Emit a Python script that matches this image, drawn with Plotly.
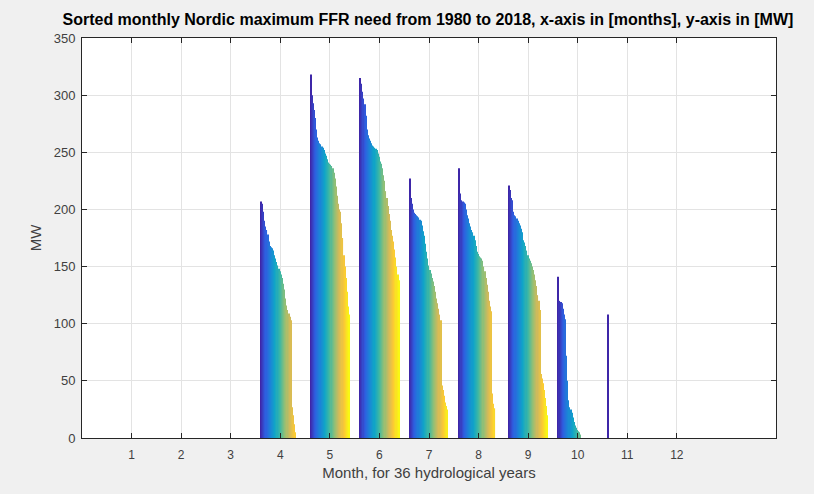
import plotly.graph_objects as go

months = list(range(1, 13))
tick_labels = [str(m) for m in months]
n_years = 36

# Sorted (descending) monthly maxima per month, in MW
m01 = [0] * 36
m02 = [0] * 36
m03 = [0] * 36
m04 = [207, 205, 198, 190, 185, 182, 178, 172, 168, 167, 166, 164, 160, 157, 154, 151,
       148, 146, 143, 140, 135, 130, 122, 116, 112, 109, 106, 103, 27, 20, 12, 5,
       0, 0, 0, 0]
m05 = [318, 300, 293, 287, 280, 270, 263, 260, 258, 257, 255, 254, 252, 249, 247, 244,
       241, 240, 239, 238, 236, 232, 227, 220, 212, 205, 200, 198, 188, 175, 160, 150,
       140, 128, 115, 108]
m06 = [315, 310, 303, 297, 292, 282, 270, 265, 262, 260, 258, 256, 255, 254, 253, 252,
       249, 246, 242, 240, 236, 230, 225, 216, 210, 203, 196, 190, 182, 177, 172, 165,
       158, 150, 143, 138]
m07 = [227, 210, 205, 200, 197, 196, 195, 194, 193, 191, 190, 186, 181, 177, 170, 163,
       157, 151, 147, 144, 140, 137, 133, 128, 122, 118, 113, 108, 103, 46, 42, 37,
       31, 28, 25, 0]
m08 = [236, 214, 208, 207, 206, 205, 200, 195, 192, 188, 185, 182, 180, 177, 173, 168,
       163, 161, 159, 158, 157, 155, 150, 146, 140, 134, 128, 120, 115, 111, 39, 30,
       26, 0, 0, 0]
m09 = [221, 217, 210, 208, 198, 195, 194, 192, 190, 188, 186, 183, 180, 173, 171, 168,
       164, 160, 157, 155, 153, 150, 147, 143, 138, 133, 125, 120, 112, 56, 52, 48,
       42, 35, 28, 20]
m10 = [141, 120, 119, 118, 113, 108, 104, 72, 50, 33, 27, 25, 22, 18, 14, 11,
       9, 7, 6, 5, 3, 0, 0, 0, 0, 0, 0, 0, 0, 0, 0, 0,
       0, 0, 0, 0]
m11 = [108] + [0] * 35
m12 = [0] * 36

month_values = [m01, m02, m03, m04, m05, m06, m07, m08, m09, m10, m11, m12]

# parula colormap anchors
parula = ["#3e26a8", "#2f5de0", "#1c82d8", "#10a4c8", "#3cb7a4",
          "#8dbf78", "#d2ba5a", "#fbc835", "#f9f714"]


def hex2rgb(h):
    h = h.lstrip("#")
    return [int(h[i:i + 2], 16) for i in (0, 2, 4)]


def cmap(t):
    n = len(parula) - 1
    pos = t * n
    i = min(int(pos), n - 1)
    f = pos - i
    a, b = hex2rgb(parula[i]), hex2rgb(parula[i + 1])
    c = [round(a[j] + (b[j] - a[j]) * f) for j in range(3)]
    return f"rgb({c[0]},{c[1]},{c[2]})"


fig = go.Figure()
for k in range(n_years):
    fig.add_trace(go.Bar(
        x=months,
        y=[month_values[m][k] for m in range(12)],
        marker=dict(color=cmap(k / (n_years - 1)), line=dict(width=0)),
        showlegend=False,
        hoverinfo="skip",
    ))

axis_col = "#262626"
tick_col = "#404040"
fig.update_layout(
    width=814, height=494,
    paper_bgcolor="#f0f0f0",
    plot_bgcolor="#ffffff",
    margin=dict(l=82, r=38, t=38, b=56),
    barmode="group",
    bargap=0.2,
    bargroupgap=0,
    font=dict(family="Liberation Sans, Arial, sans-serif", color=tick_col, size=12),
    title=dict(
        text="<b>Sorted monthly Nordic maximum FFR need from 1980 to 2018, x-axis in [months], y-axis in [MW]</b>",
        x=0.5257, xanchor="center", y=0.96, yanchor="middle",
        font=dict(size=16, color="#000000"),
    ),
)
fig.update_xaxes(
    range=[0, 14],
    tickmode="array", tickvals=months, ticktext=tick_labels,
    ticks="inside", ticklen=5, tickcolor=axis_col,
    showline=True, linecolor=axis_col, linewidth=1, mirror="ticks",
    showgrid=True, gridcolor="#e3e3e3", gridwidth=1,
    zeroline=False,
    ticklabelstandoff=6,
    title=dict(text="Month, for 36 hydrological years", font=dict(size=15, color=tick_col), standoff=6),
    tickfont=dict(size=12, color=tick_col),
)
fig.update_yaxes(
    range=[0, 350],
    tickmode="linear", tick0=0, dtick=50,
    ticks="inside", ticklen=5, tickcolor=axis_col,
    showline=True, linecolor=axis_col, linewidth=1, mirror="ticks",
    showgrid=True, gridcolor="#e3e3e3", gridwidth=1,
    zeroline=False,
    ticklabelstandoff=3,
    title=dict(text="MW", font=dict(size=15, color=tick_col), standoff=8),
    tickfont=dict(size=13, color=tick_col),
)

fig.write_html("out.html")
